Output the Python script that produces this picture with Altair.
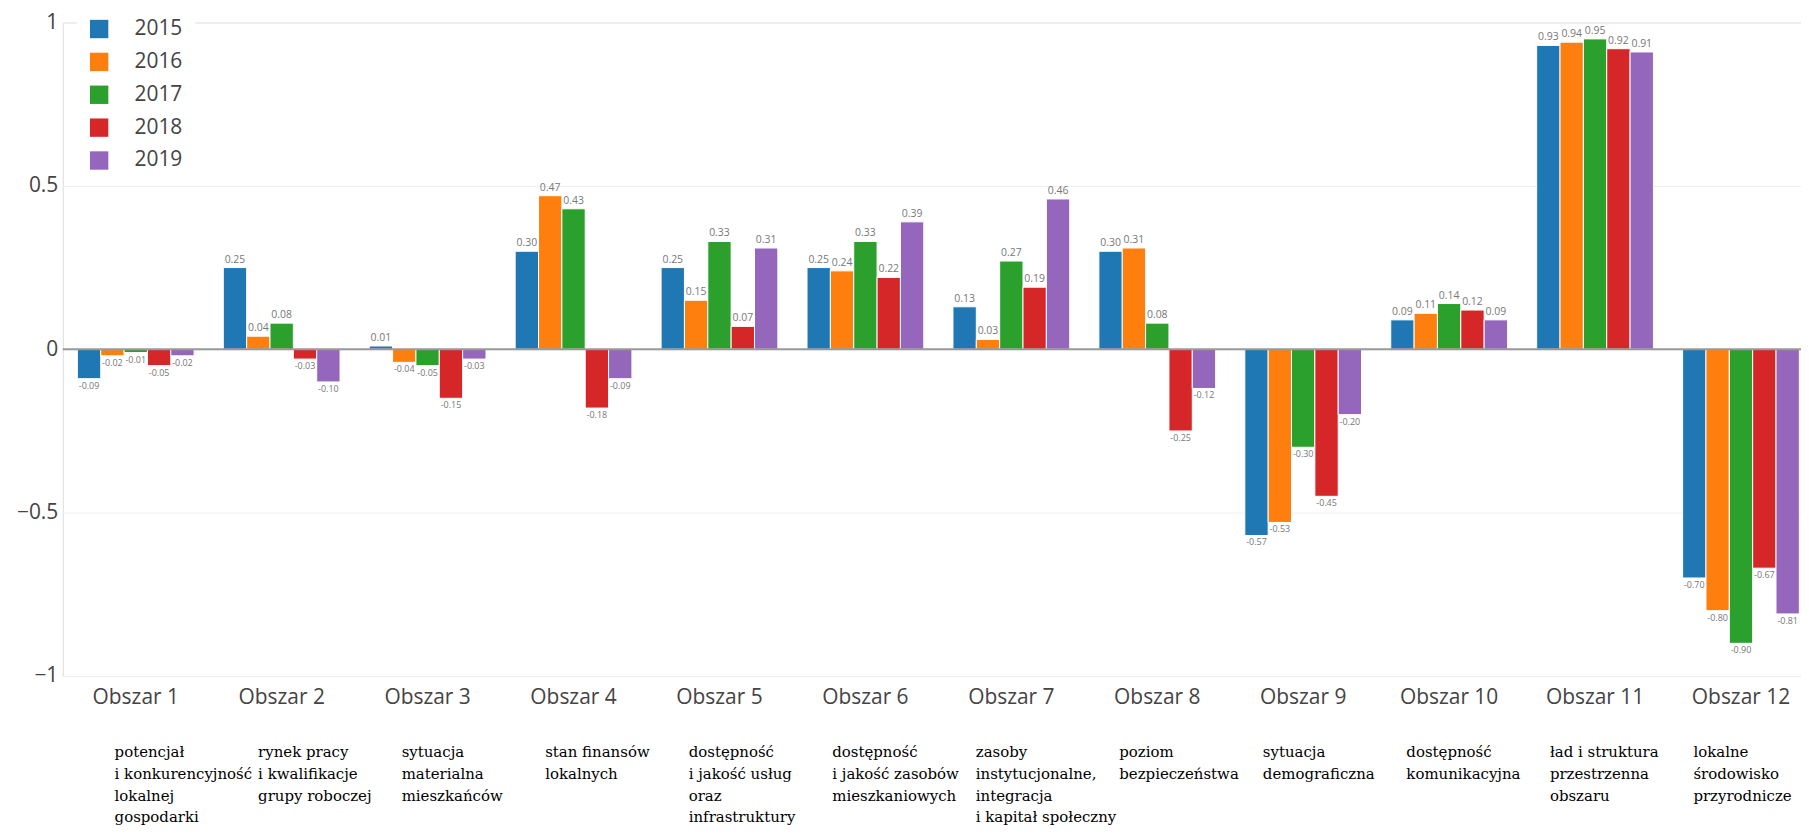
import altair as alt
import pandas as pd

categories = ["Obszar 1", "Obszar 2", "Obszar 3", "Obszar 4", "Obszar 5", "Obszar 6",
              "Obszar 7", "Obszar 8", "Obszar 9", "Obszar 10", "Obszar 11", "Obszar 12"]
years = ["2015", "2016", "2017", "2018", "2019"]
colors = ["#1f77b4", "#ff7f0e", "#2ca02c", "#d62728", "#9467bd"]

v2015 = [-0.09, 0.25, 0.01, 0.30, 0.25, 0.25, 0.13, 0.30, -0.57, 0.09, 0.93, -0.70]
v2016 = [-0.02, 0.04, -0.04, 0.47, 0.15, 0.24, 0.03, 0.31, -0.53, 0.11, 0.94, -0.80]
v2017 = [-0.01, 0.08, -0.05, 0.43, 0.33, 0.33, 0.27, 0.08, -0.30, 0.14, 0.95, -0.90]
v2018 = [-0.05, -0.03, -0.15, -0.18, 0.07, 0.22, 0.19, -0.25, -0.45, 0.12, 0.92, -0.67]
v2019 = [-0.02, -0.10, -0.03, -0.09, 0.31, 0.39, 0.46, -0.12, -0.20, 0.09, 0.91, -0.81]

descriptions = [
    "potencjał\ni konkurencyjność\nlokalnej\ngospodarki",
    "rynek pracy\ni kwalifikacje\ngrupy roboczej",
    "sytuacja\nmaterialna\nmieszkańców",
    "stan finansów\nlokalnych",
    "dostępność\ni jakość usług\noraz\ninfrastruktury",
    "dostępność\ni jakość zasobów\nmieszkaniowych",
    "zasoby\ninstytucjonalne,\nintegracja\ni kapitał społeczny",
    "poziom\nbezpieczeństwa",
    "sytuacja\ndemograficzna",
    "dostępność\nkomunikacyjna",
    "ład i struktura\nprzestrzenna\nobszaru",
    "lokalne\nśrodowisko\nprzyrodnicze",
]

series = [v2015, v2016, v2017, v2018, v2019]
rows = []
for yr, vals in zip(years, series):
    for c, v in zip(categories, vals):
        rows.append({"cat": c, "year": yr, "value": v, "label": f"{v:.2f}"})
df = pd.DataFrame(rows)
desc_df = pd.DataFrame({"cat": categories, "desc": descriptions})
zero_df = pd.DataFrame({"zero": [0.0]})

FONT = "Open Sans"

x_enc = alt.X(
    "cat:N", sort=categories,
    scale=alt.Scale(domain=categories, range=[0, 1758], paddingInner=0.2, paddingOuter=0.1),
    axis=alt.Axis(title=None, labelAngle=0, labelFontSize=21, labelColor="#444",
                  labelFont=FONT, ticks=False, tickSize=0, domain=False,
                  labelPadding=11, grid=False),
)
xoff_enc = alt.XOffset("year:N", sort=years,
                       scale=alt.Scale(domain=years, paddingInner=0, paddingOuter=0))
y_enc = alt.Y(
    "value:Q",
    scale=alt.Scale(domain=[-1, 1], nice=False, zero=False),
    axis=alt.Axis(title=None, values=[-1, -0.5, 0, 0.5, 1], format="~g", grid=True,
                  gridColor="#eeeeee", gridWidth=1, domain=False, ticks=False, tickSize=0,
                  labelFontSize=21, labelColor="#444", labelFont=FONT, labelPadding=5),
)

bars = alt.Chart(df).mark_bar(stroke="white", strokeWidth=1).encode(
    x=x_enc,
    xOffset=xoff_enc,
    y=y_enc,
    color=alt.Color(
        "year:N", sort=years,
        scale=alt.Scale(domain=years, range=colors),
        legend=alt.Legend(
            title=None, orient="none", legendX=14, legendY=-16,
            symbolType="square", symbolSize=340, symbolStrokeWidth=0,
            labelFontSize=21, labelColor="#444", labelFont=FONT,
            labelOffset=25, rowPadding=11, padding=12, fillColor="white",
        ),
    ),
)

zero_rule = alt.Chart(zero_df).mark_rule(color="#999999", strokeWidth=2).encode(
    y=alt.Y("zero:Q")
)

pos_text = alt.Chart(df).transform_filter(alt.datum.value >= 0).mark_text(
    baseline="bottom", dy=-3, font=FONT, fontSize=10.5, color="#777"
).encode(x=x_enc, xOffset=xoff_enc, y=y_enc, text="label:N")

neg_text = alt.Chart(df).transform_filter(alt.datum.value < 0).mark_text(
    baseline="top", dy=3, font=FONT, fontSize=9, color="#777"
).encode(x=x_enc, xOffset=xoff_enc, y=y_enc, text="label:N")

plot = alt.layer(bars, zero_rule, pos_text, neg_text)

desc = alt.Chart(desc_df).mark_text(
    align="left", baseline="top", font="DejaVu Serif", fontSize=15,
    lineBreak="\n", lineHeight=22, color="black"
).encode(
    x=alt.X("cat:N", sort=categories,
            scale=alt.Scale(type="point", domain=categories, range=[52, 1637], padding=0),
            axis=None),
    y=alt.value(725),
    text="desc:N",
)

chart = alt.layer(plot, desc).resolve_scale(x="independent").properties(
    width=1745, height=656,
    autosize=alt.AutoSizeParams(type="none"),
    padding={"left": 55, "top": 13, "right": 0, "bottom": 154},
).configure_view(stroke=None).configure(font=FONT)

chart.save("out.html", embed_options={"renderer": "svg", "actions": False})
